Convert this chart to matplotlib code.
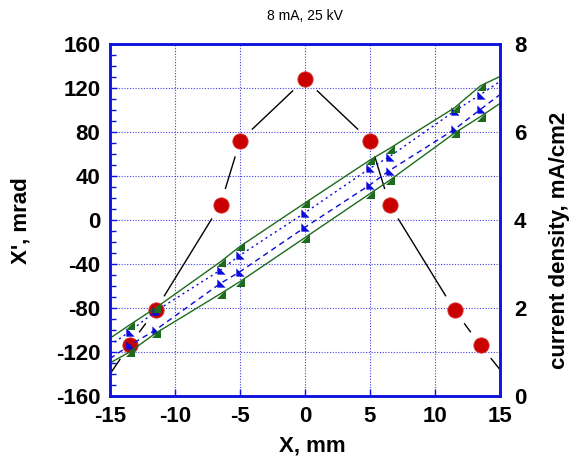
import numpy as np
import matplotlib.pyplot as plt
from matplotlib.ticker import MultipleLocator

plt.rcParams['font.family'] = ['Liberation Sans', 'DejaVu Sans']
plt.rcParams['axes.unicode_minus'] = False

# beam profile (right axis), markers at measured points
x_pos = [-13.5, -11.5, -6.5, -5, 0, 5, 6.5, 11.5, 13.5]
density = [1.15, 1.95, 4.35, 5.8, 7.2, 5.8, 4.35, 1.95, 1.15]
# guide line runs on to the frame edges
dens_edge_x = [-15, 15]
dens_edge = [0.5, 0.6]

# phase space boundaries (left axis), mrad
edge_x = [-15, 15]
green_upper = [-95.5, -80, -38, -24, 15.5, 54.5, 65, 102, 122]
green_upper_edge = [-107.5, 130.5]
green_lower = [-120, -103, -67, -56, -16, 24, 36, 79, 94]
green_lower_edge = [-130, 106]
blue_upper = [-101.5, -83, -45.5, -32, 6.6, 47, 57.6, 99, 114]
blue_upper_edge = [-114, 126]
blue_lower = [-114, -100, -57.6, -47, -6.6, 32, 45, 82.4, 100.6]
blue_lower_edge = [-126, 114]

xticks = [-15, -10, -5, 0, 5, 10, 15]

W, H = 572, 463
fig = plt.figure(figsize=(W / 100, H / 100), dpi=100)
ax = fig.add_axes([110 / W, (H - 396) / H, 390 / W, 352 / H])
ax2 = ax.twinx()

ax.set_xlim(-15, 15)
ax.set_ylim(-160, 160)
ax2.set_ylim(0, 8)

spine_col = '#1010e0'
green = '#1d6b1d'
blue = '#0a0adc'


def full(xs, ys, ex, ey):
    xx = [ex[0]] + list(xs) + [ex[1]]
    yy = [ey[0]] + list(ys) + [ey[1]]
    return xx, yy


tri_green = [(-1, -1), (1, -1), (1, 1), (-1, -1)]
tri_blue = [(-1, -1), (1, -1), (-1, 1), (-1, -1)]

# green boundaries (solid)
for ys, ey in [(green_upper, green_upper_edge), (green_lower, green_lower_edge)]:
    xx, yy = full(x_pos, ys, edge_x, ey)
    ax.plot(xx, yy, color=green, lw=1.0, zorder=5)
    ax.plot(x_pos, ys, ls='none', marker=tri_green, ms=6.5, color=green,
            mew=0, zorder=6)

# blue boundaries (dashed)
for ys, ey, dash in [(blue_upper, blue_upper_edge, (0, (1.5, 2.5))),
                     (blue_lower, blue_lower_edge, (0, (4, 3)))]:
    xx, yy = full(x_pos, ys, edge_x, ey)
    ax.plot(xx, yy, color=blue, lw=1.0, ls=dash, zorder=4)
    ax.plot(x_pos, ys, ls='none', marker=tri_blue, ms=6, color=blue,
            mew=0, zorder=4.5)

# current density: red dots, black line with gaps around the dots
ax.plot(x_pos, density, ls='none', marker='o', ms=11, color='#c80000',
        mec='#d83030', mew=0.6, transform=ax2.transData, zorder=3)

lx, ly = full(x_pos, density, dens_edge_x, dens_edge)
has_dot = [False] + [True] * len(x_pos) + [False]
pts = ax2.transData.transform(np.column_stack([lx, ly]))
gap = 17.0
inv = ax2.transData.inverted()
for i in range(len(pts) - 1):
    p0, p1 = pts[i], pts[i + 1]
    d = p1 - p0
    length = np.hypot(*d)
    u = d / length
    a = p0 + u * gap if has_dot[i] else p0
    b = p1 - u * gap if has_dot[i + 1] else p1
    if np.dot(b - a, u) <= 0:
        continue
    seg = inv.transform(np.vstack([a, b]))
    ax.plot(seg[:, 0], seg[:, 1], color='black', lw=1.0,
            transform=ax2.transData, zorder=2)

# axes styling
ax.grid(True, color=spine_col, ls=(0, (1, 1.5)), lw=0.8, alpha=0.8)
ax.set_axisbelow(True)
ax.yaxis.set_major_locator(MultipleLocator(40))
ax.yaxis.set_minor_locator(MultipleLocator(10))
ax.set_xticks(xticks)
ax.tick_params(axis='both', which='major', direction='in', length=5,
               width=1, color=spine_col, labelsize=16, pad=7)
ax.tick_params(axis='y', which='minor', direction='in', length=4,
               width=1, color=spine_col)
for lab in ax.get_xticklabels() + ax.get_yticklabels():
    lab.set_fontweight('bold')

ax2.yaxis.set_major_locator(MultipleLocator(2))
ax2.tick_params(axis='y', direction='in', length=0, labelsize=16, pad=10)
for lab in ax2.get_yticklabels():
    lab.set_fontweight('bold')

for a in (ax, ax2):
    for s in a.spines.values():
        s.set_color(spine_col)
        s.set_linewidth(1.8)

fig.text(305 / W, 1 - 16 / H, '8 mA, 25 kV', ha='center', va='center',
         fontsize=10)
fig.text(312 / W, 1 - 446 / H, 'X, mm', ha='center', va='center',
         fontsize=16, fontweight='bold')
fig.text(21 / W, 1 - 221 / H, "X', mrad", ha='center', va='center',
         rotation=90, fontsize=16, fontweight='bold')
fig.text(560 / W, 1 - 240 / H, 'current density, mA/cm2', ha='center',
         va='center', rotation=90, fontsize=16, fontweight='bold')

fig.savefig('out.png', dpi=100)
